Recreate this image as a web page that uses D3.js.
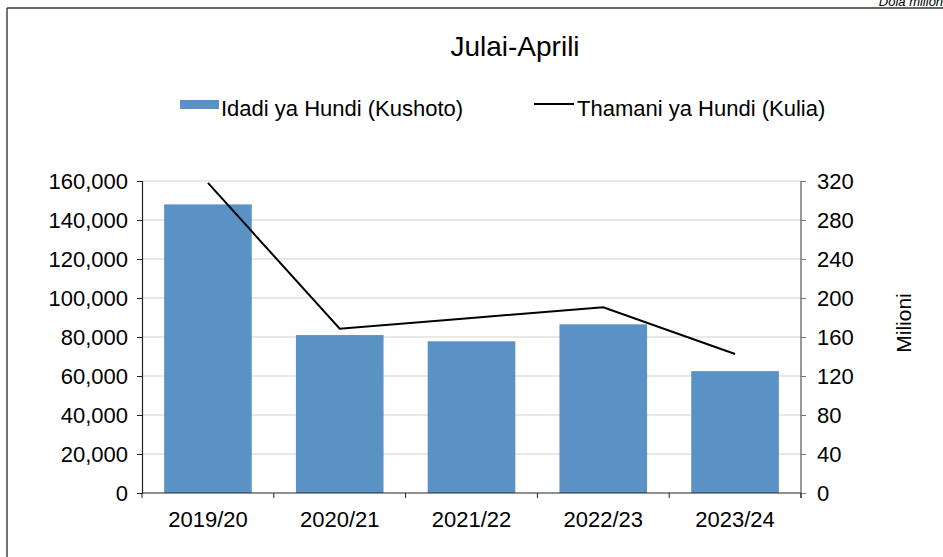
<!DOCTYPE html>
<html><head><meta charset="utf-8">
<script src="https://cdn.jsdelivr.net/npm/d3@7"></script>
<style>body{margin:0;background:#fff;}svg{display:block;font-family:"Liberation Sans",Arial,sans-serif;}</style>
</head><body>
<svg id="c" width="943" height="557"></svg>
<script>
const categories = ["2019/20","2020/21","2021/22","2022/23","2023/24"];
const countValues = [148000, 81000, 77800, 86500, 62500];
const valueValues = [318, 168.5, 179.5, 190.5, 142.5];
const leftTicks = [0,20000,40000,60000,80000,100000,120000,140000,160000];
const rightTicks = [0,40,80,120,160,200,240,280,320];
const title = "Julai-Aprili";
const legendBar = "Idadi ya Hundi (Kushoto)";
const legendLine = "Thamani ya Hundi (Kulia)";
const unitNote = "Dola milioni";
const rightLabel = "Milioni";

const svg = d3.select("#c");
const L = 142, R = 801, T = 181, B = 493;
const FF = "Liberation Sans, Arial, sans-serif";

// frame
svg.append("line").attr("x1",7).attr("x2",943).attr("y1",8).attr("y2",8).attr("stroke","#333").attr("stroke-width",1.5);
svg.append("line").attr("x1",7).attr("x2",7).attr("y1",8).attr("y2",557).attr("stroke","#444").attr("stroke-width",1.5);
svg.append("text").attr("x",946).attr("y",6).attr("text-anchor","end").attr("font-size",13).attr("font-style","italic").text(unitNote);

const x = d3.scaleBand().domain(categories).range([L,R]).paddingInner(0.335).paddingOuter(0.168);
const y = d3.scaleLinear().domain([0,160000]).range([B,T]);
const y2 = d3.scaleLinear().domain([0,320]).range([B,T]);

// gridlines
svg.append("g").selectAll("line").data(leftTicks.slice(1)).join("line")
  .attr("x1",L).attr("x2",R).attr("y1",d=>y(d)).attr("y2",d=>y(d))
  .attr("stroke","#e0e0e0").attr("stroke-width",1.5);

// bars
svg.append("g").selectAll("rect").data(categories).join("rect")
  .attr("x",d=>x(d)).attr("width",x.bandwidth())
  .attr("y",(d,i)=>y(countValues[i])).attr("height",(d,i)=>B-y(countValues[i]))
  .attr("fill","#5b92c6");

// line
const line = d3.line().x((d,i)=>x(categories[i])+x.bandwidth()/2).y(d=>y2(d));
svg.append("path").datum(valueValues).attr("d",line).attr("fill","none").attr("stroke","#000").attr("stroke-width",2);

// left axis
const fmt = d3.format(",");
const ga = svg.append("g").attr("transform",`translate(${L},0)`)
  .call(d3.axisLeft(y).tickValues(leftTicks).tickFormat(fmt).tickSize(5).tickPadding(9));
ga.select(".domain").attr("stroke","#222").attr("stroke-width",1.2);
ga.selectAll(".tick line").attr("stroke","#222");
ga.selectAll("text").attr("font-size",22).attr("fill","#000").attr("font-family",FF).attr("dy","0.35em");

// right axis
const gr = svg.append("g").attr("transform",`translate(${R},0)`)
  .call(d3.axisRight(y2).tickValues(rightTicks).tickSize(5).tickPadding(11));
gr.select(".domain").attr("stroke","#777").attr("stroke-width",1.5).attr("d",`M0,${T}V${B+5}`);
gr.selectAll(".tick line").attr("stroke","#777");
gr.selectAll("text").attr("font-size",22).attr("fill","#000").attr("font-family",FF).attr("dy","0.35em");

// bottom axis
const gb = svg.append("g").attr("transform",`translate(0,${B})`)
  .call(d3.axisBottom(x).tickSize(0).tickPadding(18));
gb.select(".domain").attr("stroke","#222").attr("stroke-width",1.2).attr("d",`M${L},0H${R}`);
gb.selectAll("text").attr("font-size",22).attr("fill","#000").attr("font-family",FF);
const sepTicks = d3.range(categories.length+1).map(i=>L + i*(R-L)/categories.length);
gb.append("g").selectAll("line").data(sepTicks).join("line")
  .attr("x1",d=>d).attr("x2",d=>d).attr("y1",0).attr("y2",5).attr("stroke","#222");

// title
svg.append("text").attr("x",515).attr("y",56).attr("text-anchor","middle").attr("font-size",28).text(title);

// legend
svg.append("rect").attr("x",180).attr("y",100).attr("width",39).attr("height",9).attr("fill","#5b92c6");
svg.append("text").attr("x",221).attr("y",116).attr("font-size",22).text(legendBar);
svg.append("line").attr("x1",534).attr("x2",574).attr("y1",104).attr("y2",104).attr("stroke","#000").attr("stroke-width",2);
svg.append("text").attr("x",577).attr("y",116).attr("font-size",22).text(legendLine);

// right axis label
svg.append("text").attr("transform","translate(911,323) rotate(-90)").attr("text-anchor","middle").attr("font-size",21).text(rightLabel);
</script>
</body></html>
